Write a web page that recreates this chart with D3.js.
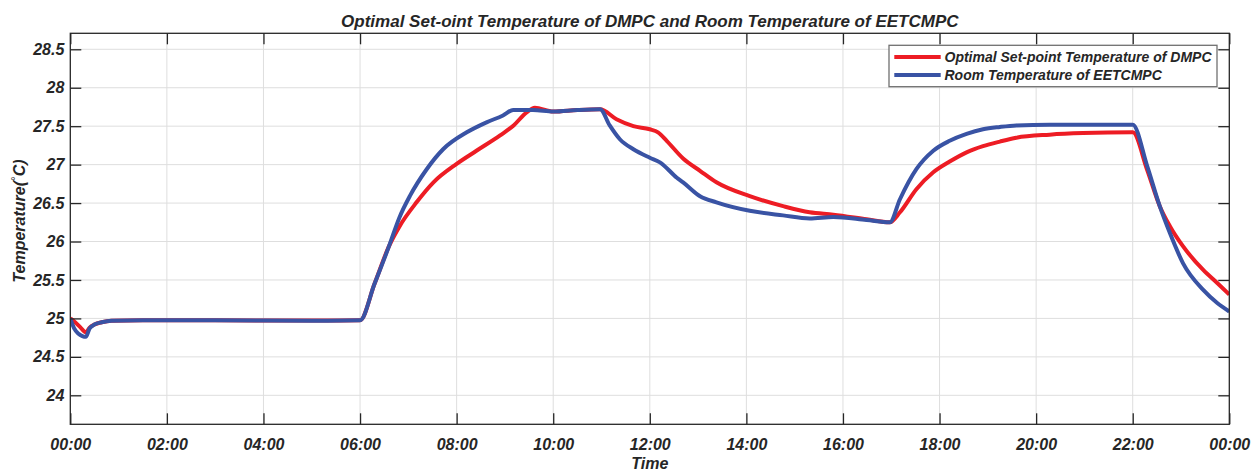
<!DOCTYPE html>
<html>
<head>
<meta charset="utf-8">
<script src="https://cdn.jsdelivr.net/npm/d3@7"></script>
<style>
  html, body { margin: 0; padding: 0; background: #fff; }
  svg { display: block; }
  text { font-family: "Liberation Sans", Arial, sans-serif; font-weight: bold; font-style: italic; fill: #262626; }
</style>
</head>
<body>
<svg id="chart" width="1258" height="471"></svg>
<script>
// Hours of the day and temperatures (°C) for each series
const hoursDMPC = [0, 0.1, 0.2, 0.32, 0.4, 0.5, 0.65, 0.85, 1.5, 3, 5, 6.0, 6.3, 6.6, 6.82, 7.17, 7.52, 8.0, 8.41, 8.9, 9.18, 9.45, 9.62, 10.0, 10.5, 10.97, 11.31, 11.66, 12.0, 12.17, 12.35, 12.69, 13.04, 13.38, 14.07, 14.76, 15.31, 15.8, 16.49, 16.97, 17.18, 17.52, 17.87, 18.21, 18.56, 18.9, 19.25, 19.59, 20.28, 20.97, 22.0, 22.3, 22.56, 22.77, 23.04, 23.46, 23.75, 24];
const setpointDMPC = [25.0, 24.95, 24.89, 24.82, 24.88, 24.92, 24.95, 24.97, 24.975, 24.975, 24.972, 24.975, 25.45, 25.94, 26.2, 26.51, 26.77, 27.01, 27.18, 27.38, 27.51, 27.68, 27.74, 27.69, 27.71, 27.72, 27.59, 27.5, 27.46, 27.42, 27.31, 27.08, 26.92, 26.77, 26.59, 26.46, 26.38, 26.35, 26.29, 26.25, 26.38, 26.68, 26.9, 27.04, 27.16, 27.24, 27.3, 27.35, 27.39, 27.41, 27.42, 26.93, 26.46, 26.2, 25.94, 25.63, 25.46, 25.31];

const hoursEETC = [0, 0.08, 0.17, 0.25, 0.32, 0.4, 0.5, 0.65, 0.85, 1.5, 3, 5, 6.0, 6.3, 6.6, 6.82, 7.03, 7.38, 7.72, 8.21, 8.62, 8.96, 9.17, 9.58, 10.0, 10.5, 10.97, 11.17, 11.38, 11.66, 12.0, 12.21, 12.56, 12.69, 13.04, 13.38, 14.07, 14.76, 15.31, 15.8, 16.49, 16.97, 17.18, 17.52, 17.87, 18.21, 18.56, 18.9, 19.25, 19.59, 20.28, 21.0, 22.0, 22.3, 22.56, 22.77, 23.04, 23.46, 23.75, 24];
const roomEETC = [25.0, 24.87, 24.8, 24.77, 24.76, 24.87, 24.92, 24.95, 24.97, 24.975, 24.975, 24.97, 24.975, 25.45, 25.94, 26.32, 26.59, 26.94, 27.2, 27.42, 27.55, 27.64, 27.71, 27.71, 27.69, 27.71, 27.72, 27.51, 27.33, 27.2, 27.09, 27.03, 26.83, 26.77, 26.59, 26.51, 26.4, 26.34, 26.3, 26.32, 26.28, 26.25, 26.55, 26.94, 27.18, 27.31, 27.4, 27.46, 27.49, 27.51, 27.52, 27.52, 27.52, 26.98, 26.46, 26.11, 25.72, 25.37, 25.2, 25.09];

const yTicks = [24, 24.5, 25, 25.5, 26, 26.5, 27, 27.5, 28, 28.5];
const xTicks = [0, 2, 4, 6, 8, 10, 12, 14, 16, 18, 20, 22, 24];
const xTickLabels = ["00:00", "02:00", "04:00", "06:00", "08:00", "10:00", "12:00", "14:00", "16:00", "18:00", "20:00", "22:00", "00:00"];
const seriesNames = ["Optimal Set-point Temperature of DMPC", "Room Temperature of EETCMPC"];
const seriesColors = ["#ed1c24", "#3953a4"];

const svg = d3.select("#chart");
const pL = 70.3, pR = 1229.3, pT = 33.3, pB = 424.3;
const ink = "#262626";

const x = d3.scaleLinear().domain([0, 24]).range([pL, pR]);
const y = d3.scaleLinear().domain([23.623, 28.708]).range([pB, pT]);

// Grid
const grid = svg.append("g").attr("stroke", "#dedede").attr("stroke-width", 1);
grid.selectAll(".gx").data(xTicks.slice(1, -1)).join("line")
  .attr("x1", d => x(d)).attr("x2", d => x(d)).attr("y1", pT).attr("y2", pB);
grid.selectAll(".gy").data(yTicks).join("line")
  .attr("x1", pL).attr("x2", pR).attr("y1", d => y(d)).attr("y2", d => y(d));

// Series
const line = d3.line().curve(d3.curveMonotoneX).x(d => x(d[0])).y(d => y(d[1]));
const dataDMPC = hoursDMPC.map((h, i) => [h, setpointDMPC[i]]);
const dataEETC = hoursEETC.map((h, i) => [h, roomEETC[i]]);
const plot = svg.append("g");
plot.append("defs").append("clipPath").attr("id", "clip")
  .append("rect").attr("x", pL).attr("y", pT).attr("width", pR - pL).attr("height", pB - pT);
plot.append("path").datum(dataDMPC).attr("d", line).attr("fill", "none")
  .attr("stroke", seriesColors[0]).attr("stroke-width", 4).attr("stroke-linejoin", "round")
  .attr("clip-path", "url(#clip)");
plot.append("path").datum(dataEETC).attr("d", line).attr("fill", "none")
  .attr("stroke", seriesColors[1]).attr("stroke-width", 4).attr("stroke-linejoin", "round")
  .attr("clip-path", "url(#clip)");

// Axes (ticks point inward on all four sides)
const tickLen = 11;
const axB = svg.append("g").attr("transform", `translate(0,${pB})`)
  .call(d3.axisBottom(x).tickValues(xTicks).tickSizeInner(-tickLen).tickSizeOuter(0).tickPadding(14)
    .tickFormat((d, i) => xTickLabels[i]));
const axT = svg.append("g").attr("transform", `translate(0,${pT})`)
  .call(d3.axisTop(x).tickValues(xTicks).tickSizeInner(-tickLen).tickSizeOuter(0).tickFormat(""));
const axL = svg.append("g").attr("transform", `translate(${pL},0)`)
  .call(d3.axisLeft(y).tickValues(yTicks).tickSizeInner(-tickLen).tickSizeOuter(0).tickPadding(6).tickFormat(d3.format("")));
const axR = svg.append("g").attr("transform", `translate(${pR},0)`)
  .call(d3.axisRight(y).tickValues(yTicks).tickSizeInner(-tickLen).tickSizeOuter(0).tickFormat(""));
[axB, axT, axL, axR].forEach(a => {
  a.select(".domain").remove();
  a.selectAll("line").attr("stroke", ink).attr("stroke-width", 1.3);
  a.selectAll("text").attr("font-size", 16).attr("fill", ink);
});
axB.attr("font-family", null);
axL.attr("font-family", null);
svg.append("rect").attr("x", pL).attr("y", pT).attr("width", pR - pL).attr("height", pB - pT)
  .attr("fill", "none").attr("stroke", ink).attr("stroke-width", 1.3);

// Titles
svg.append("text").attr("x", (pL + pR) / 2).attr("y", 27).attr("text-anchor", "middle")
  .attr("font-size", 17).text("Optimal Set-oint Temperature of DMPC and Room Temperature of EETCMPC");
svg.append("text").attr("x", (pL + pR) / 2).attr("y", 469).attr("text-anchor", "middle")
  .attr("font-size", 16).text("Time");
const yl = svg.append("text").attr("transform", "translate(25,221) rotate(-90)").attr("text-anchor", "middle")
  .attr("font-size", 16);
yl.append("tspan").text("Temperature(");
yl.append("tspan").attr("font-weight", "normal").attr("font-style", "normal").attr("font-size", 12).attr("dy", -5).text("\u00B0");
yl.append("tspan").attr("dy", 5).text("C)");

// Legend
const lg = svg.append("g");
lg.append("rect").attr("x", 889).attr("y", 45.3).attr("width", 328).attr("height", 41.4)
  .attr("fill", "#fff").attr("stroke", "#707070").attr("stroke-width", 1.3);
seriesNames.forEach((name, i) => {
  const yy = 57 + i * 18;
  lg.append("line").attr("x1", 894.3).attr("x2", 940.7).attr("y1", yy).attr("y2", yy)
    .attr("stroke", seriesColors[i]).attr("stroke-width", 4);
  lg.append("text").attr("x", 944.5).attr("y", yy + 5).attr("font-size", 14).text(name);
});
</script>
</body>
</html>
